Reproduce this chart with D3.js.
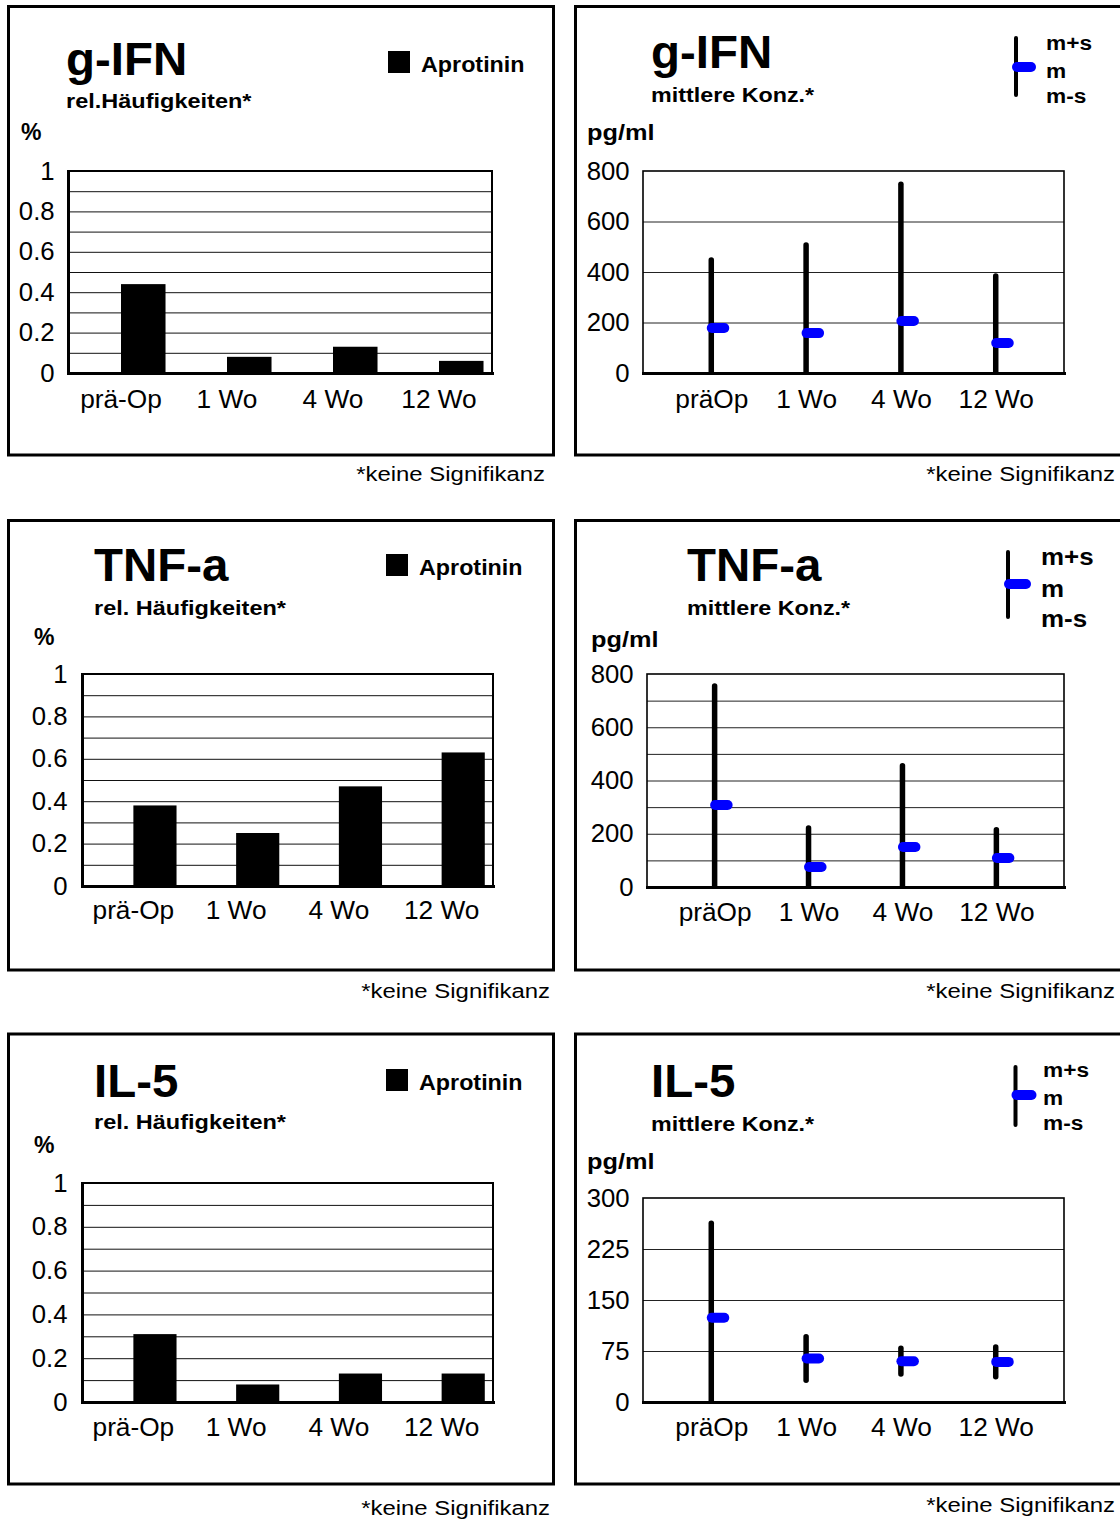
<!DOCTYPE html>
<html><head><meta charset="utf-8">
<script src="https://cdn.jsdelivr.net/npm/d3@7"></script>
<style>body{margin:0;background:#fff}svg{display:block;font-family:"Liberation Sans",Arial,Helvetica,sans-serif}</style>
</head><body><svg id="c" width="1120" height="1519"></svg>
<script>
// ---------- data ----------
const barCategories = ["prä-Op", "1 Wo", "4 Wo", "12 Wo"];
const concCategories = ["präOp", "1 Wo", "4 Wo", "12 Wo"];
const ifnFreq = [0.44, 0.08, 0.13, 0.06];
const tnfFreq = [0.38, 0.25, 0.47, 0.63];
const il5Freq = [0.31, 0.08, 0.13, 0.13];
const ifnMean = [178, 158, 206, 119];
const ifnSD = [270, 349, 542, 265];
const tnfMean = [308, 75, 150, 109];
const tnfSD = [447, 147, 305, 106];
const il5Mean = [124, 64, 60, 59];
const il5SD = [139, 32, 19, 22];
const freqTicks = [0, 0.2, 0.4, 0.6, 0.8, 1];
const freqGrid = [0.1, 0.2, 0.3, 0.4, 0.5, 0.6, 0.7, 0.8, 0.9];
const ifnTicks = [0, 200, 400, 600, 800];
const ifnGrid = [200, 400, 600];
const tnfTicks = [0, 200, 400, 600, 800];
const tnfGrid = [100, 200, 300, 400, 500, 600, 700];
const il5Ticks = [0, 75, 150, 225, 300];
const il5Grid = [75, 150, 225];
const titles = ["g-IFN", "TNF-a", "IL-5"];
const freqSubtitles = ["rel.Häufigkeiten*", "rel. Häufigkeiten*", "rel. Häufigkeiten*"];
const concSubtitle = "mittlere Konz.*";
const freqUnit = "%";
const concUnit = "pg/ml";
const legendBar = "Aprotinin";
const legendConc = ["m+s", "m", "m-s"];
const footnote = "*keine Signifikanz";

// ---------- layout ----------
const FONT = '"Liberation Sans", Arial, Helvetica, sans-serif';
const svg = d3.select("#c");

const barLayouts = [
  {fx0:8.5,fy0:6.5,fx1:553.5,fy1:455, tx:66,ty:75, sy:108, px:21,py:140, lx:388,ly:51, l:68,r:492,t:171,b:373, tp:13, xl:408, fnx:545, fny:481},
  {fx0:8.5,fy0:520.5,fx1:553.5,fy1:970, tx:94,ty:581, sy:615, px:34,py:645, lx:386,ly:554, l:82,r:493,t:674,b:886, tp:14, xl:919, fnx:550, fny:998},
  {fx0:8.5,fy0:1034,fx1:553.5,fy1:1484, tx:94,ty:1097, sy:1129, px:34,py:1153, lx:386,ly:1069, l:82,r:493,t:1183,b:1402, tp:14, xl:1436, fnx:550, fny:1515}
];
const concLayouts = [
  {fx0:575.5,fy0:6.5,fx1:1125,fy1:455, tx:651,ty:68, sy:102, px:587,py:140, lgx:1016,lgy0:38,lgy1:95,lgp:67,pw:15, lgtx:1046, lgty:[50,78,103], lgs:21, l:643,r:1064,t:171,b:373, tp:13, xl:408, fnx:1115, fny:481},
  {fx0:575.5,fy0:520.5,fx1:1125,fy1:970, tx:687,ty:581, sy:615, px:591,py:647, lgx:1008,lgy0:552,lgy1:617,lgp:584,pw:18, lgtx:1041, lgty:[565,597,627], lgs:24, l:647,r:1064,t:674,b:887, tp:13, xl:921, fnx:1115, fny:998},
  {fx0:575.5,fy0:1034,fx1:1125,fy1:1484, tx:651,ty:1097, sy:1131, px:587,py:1169, lgx:1015.5,lgy0:1067,lgy1:1125,lgp:1095,pw:16, lgtx:1043, lgty:[1077,1105,1130], lgs:21, l:643,r:1064,t:1198,b:1402, tp:13, xl:1436, fnx:1115, fny:1512}
];

function txt(g, x, y, s, o) {
  o = o || {};
  return g.append("text")
    .attr("transform", `translate(${x},${y}) scale(${o.sx || 1},1)`)
    .attr("text-anchor", o.anchor || "start")
    .attr("font-family", FONT)
    .attr("font-size", o.size + "px")
    .attr("font-weight", o.bold ? "bold" : "normal")
    .attr("fill", "#000")
    .text(s);
}

function frame(g, L) {
  g.append("rect").attr("x", L.fx0).attr("y", L.fy0)
    .attr("width", L.fx1 - L.fx0).attr("height", L.fy1 - L.fy0)
    .attr("fill", "none").attr("stroke", "#000").attr("stroke-width", 3);
}

function styleAxisText(a, size, sx) {
  a.attr("font-family", FONT).attr("font-size", size);
  a.selectAll("text").attr("fill", "#000").attr("transform", `scale(${sx},1)`);
}

function barPanel(L, idx, values) {
  const g = svg.append("g");
  frame(g, L);
  txt(g, L.tx, L.ty, titles[idx], {size:47, bold:true, sx:1.01});
  txt(g, L.tx, L.sy, freqSubtitles[idx], {size:21, bold:true, sx:1.12});
  txt(g, L.px, L.py, freqUnit, {size:23, bold:true});
  g.append("rect").attr("x", L.lx).attr("y", L.ly).attr("width", 22).attr("height", 22).attr("fill", "#000");
  txt(g, L.lx + 33, L.ly + 21, legendBar, {size:22, bold:true, sx:1.06});

  const x = d3.scaleBand().domain(barCategories).range([L.l, L.r]).padding(0);
  const y = d3.scaleLinear().domain([0, 1]).range([L.b, L.t]);

  g.append("g").attr("transform", `translate(${L.l},0)`)
    .call(d3.axisLeft(y).tickValues(freqGrid).tickSize(-(L.r - L.l)).tickFormat(""))
    .call(a => a.select(".domain").remove())
    .selectAll("line").attr("stroke", "#111").attr("stroke-width", 1);

  g.append("path").attr("d", `M${L.l},${L.t}H${L.r}V${L.b}`)
    .attr("fill", "none").attr("stroke", "#000").attr("stroke-width", 2);

  g.append("g").selectAll("rect").data(values).join("rect")
    .attr("x", (d, i) => x(barCategories[i]) + x.bandwidth() / 2)
    .attr("width", x.bandwidth() * 0.42)
    .attr("y", d => y(d))
    .attr("height", d => y(0) - y(d))
    .attr("fill", "#000");

  const ya = g.append("g").attr("transform", `translate(${L.l},0)`)
    .call(d3.axisLeft(y).tickValues(freqTicks).tickFormat(d => String(d)).tickSize(0).tickPadding(L.tp));
  ya.select(".domain").attr("stroke-width", 3).attr("stroke-linecap", "square");
  styleAxisText(ya, 25, 1.03);

  const xa = g.append("g").attr("transform", `translate(0,${L.b})`)
    .call(d3.axisBottom(x).tickSize(0));
  xa.select(".domain").attr("stroke-width", 3).attr("stroke-linecap", "square");
  styleAxisText(xa, 25, 1.05);
  xa.selectAll("text").attr("dy", 0).attr("y", L.xl - L.b);

  txt(svg, L.fnx, L.fny, footnote, {size:21, anchor:"end", sx:1.14});
}

function concPanel(L, idx, means, sds, ticks, grid, maxV) {
  const g = svg.append("g");
  frame(g, L);
  txt(g, L.tx, L.ty, titles[idx], {size:47, bold:true, sx:1.01});
  txt(g, L.tx, L.sy, concSubtitle, {size:21, bold:true, sx:1.11});
  txt(g, L.px, L.py, concUnit, {size:22, bold:true, sx:1.15});

  // legend
  g.append("line").attr("x1", L.lgx).attr("x2", L.lgx).attr("y1", L.lgy0).attr("y2", L.lgy1)
    .attr("stroke", "#000").attr("stroke-width", 4).attr("stroke-linecap", "round");
  g.append("line").attr("x1", L.lgx + 1).attr("x2", L.lgx + L.pw).attr("y1", L.lgp).attr("y2", L.lgp)
    .attr("stroke", "#0000ff").attr("stroke-width", 10).attr("stroke-linecap", "round");
  legendConc.forEach((s, i) => txt(g, L.lgtx, L.lgty[i], s, {size:L.lgs, bold:true, sx:1.08}));

  const x = d3.scalePoint().domain(concCategories).range([L.l, L.r]).padding(0.72);
  const y = d3.scaleLinear().domain([0, maxV]).range([L.b, L.t]);

  g.append("g").attr("transform", `translate(${L.l},0)`)
    .call(d3.axisLeft(y).tickValues(grid).tickSize(-(L.r - L.l)).tickFormat(""))
    .call(a => a.select(".domain").remove())
    .selectAll("line").attr("stroke", "#222").attr("stroke-width", 1);

  g.append("rect").attr("x", L.l).attr("y", L.t).attr("width", L.r - L.l).attr("height", L.b - L.t)
    .attr("fill", "none").attr("stroke", "#000").attr("stroke-width", 1.6);

  const clipId = "clip" + idx;
  g.append("clipPath").attr("id", clipId).append("rect")
    .attr("x", L.l).attr("y", L.t - 20).attr("width", L.r - L.l).attr("height", L.b - L.t + 21);
  const marks = g.append("g").attr("clip-path", `url(#${clipId})`);

  marks.selectAll("line.eb").data(means).join("line").attr("class", "eb")
    .attr("x1", (d, i) => x(concCategories[i])).attr("x2", (d, i) => x(concCategories[i]))
    .attr("y1", (d, i) => y(Math.max(0, d - sds[i])))
    .attr("y2", (d, i) => y(d + sds[i]))
    .attr("stroke", "#000").attr("stroke-width", 5.5).attr("stroke-linecap", "round");

  marks.selectAll("line.mn").data(means).join("line").attr("class", "mn")
    .attr("x1", (d, i) => x(concCategories[i]) + 0.5)
    .attr("x2", (d, i) => x(concCategories[i]) + 13)
    .attr("y1", d => y(d)).attr("y2", d => y(d))
    .attr("stroke", "#0000ff").attr("stroke-width", 10).attr("stroke-linecap", "round");

  const ya = g.append("g").attr("transform", `translate(${L.l},0)`)
    .call(d3.axisLeft(y).tickValues(ticks).tickFormat(d => String(d)).tickSize(0).tickPadding(L.tp));
  ya.select(".domain").remove();
  styleAxisText(ya, 25, 1.03);

  const xa = g.append("g").attr("transform", `translate(0,${L.b})`)
    .call(d3.axisBottom(x).tickSize(0));
  xa.select(".domain").attr("stroke-width", 3).attr("stroke-linecap", "square");
  styleAxisText(xa, 25, 1.05);
  xa.selectAll("text").attr("dy", 0).attr("y", L.xl - L.b);

  txt(svg, L.fnx, L.fny, footnote, {size:21, anchor:"end", sx:1.14});
}

barPanel(barLayouts[0], 0, ifnFreq);
barPanel(barLayouts[1], 1, tnfFreq);
barPanel(barLayouts[2], 2, il5Freq);
concPanel(concLayouts[0], 0, ifnMean, ifnSD, ifnTicks, ifnGrid, 800);
concPanel(concLayouts[1], 1, tnfMean, tnfSD, tnfTicks, tnfGrid, 800);
concPanel(concLayouts[2], 2, il5Mean, il5SD, il5Ticks, il5Grid, 300);
</script>
</body></html>
